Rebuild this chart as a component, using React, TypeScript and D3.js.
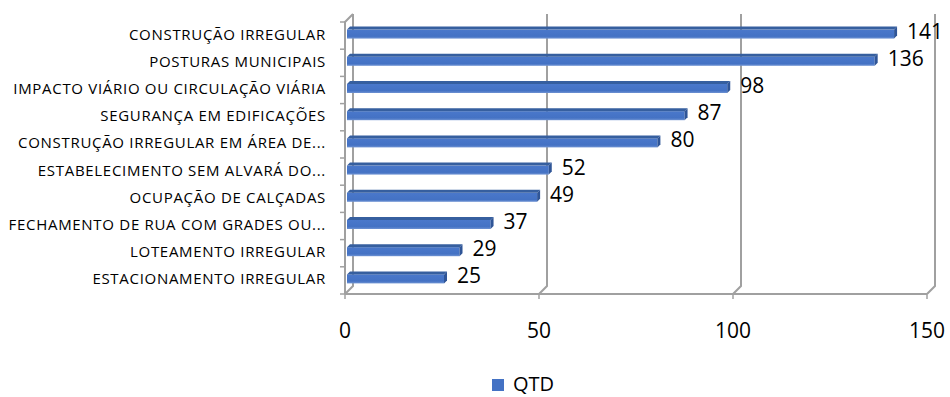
import React from "react";
import * as d3 from "d3";

const categories = [
  "CONSTRUÇÃO IRREGULAR",
  "POSTURAS MUNICIPAIS",
  "IMPACTO VIÁRIO OU CIRCULAÇÃO VIÁRIA",
  "SEGURANÇA EM EDIFICAÇÕES",
  "CONSTRUÇÃO IRREGULAR EM ÁREA DE...",
  "ESTABELECIMENTO SEM ALVARÁ DO...",
  "OCUPAÇÃO DE CALÇADAS",
  "FECHAMENTO DE RUA COM GRADES OU...",
  "LOTEAMENTO IRREGULAR",
  "ESTACIONAMENTO IRREGULAR",
];
const qtd = [141, 136, 98, 87, 80, 52, 49, 37, 29, 25];
const xTicks = [0, 50, 100, 150];
const seriesName = "QTD";

const W = 950;
const H = 397;
const DEPTH = 8; // 3-D wall depth (px, diagonal)
const FONT = "'Open Sans', 'DejaVu Sans', sans-serif";
const GRID = "#a0a0a0";

export default function App() {
  const x = d3.scaleLinear().domain([0, 150]).range([345, 927]);
  const y = d3.scaleBand<string>().domain(categories).range([22, 294]);
  const half = DEPTH / 2;
  const barH = 12;
  const topH = 3;
  const y0 = y.range()[1];
  const yTop = y.range()[0];

  return (
    <svg
      width={W}
      height={H}
      style={{ position: "absolute", left: 0, top: 0, background: "#fff" }}
      fontFamily={FONT}
    >
      <defs>
        <linearGradient id="barFront" x1="0" y1="0" x2="0" y2="1">
          <stop offset="0" stopColor="#4a78cb" />
          <stop offset="0.75" stopColor="#4472c4" />
          <stop offset="1" stopColor="#6f93d3" />
        </linearGradient>
      </defs>

      {/* back wall gridlines with floor diagonals */}
      {xTicks.map((t) => (
        <path
          key={"g" + t}
          d={`M${x(t) + DEPTH},${yTop - DEPTH} L${x(t) + DEPTH},${y0 - DEPTH} L${x(t)},${y0}`}
          fill="none"
          stroke={GRID}
          strokeWidth={2}
        />
      ))}
      {/* left side wall */}
      <path
        d={`M${x(0)},${y0} L${x(0)},${yTop} L${x(0) + DEPTH},${yTop - DEPTH}`}
        fill="none"
        stroke={GRID}
        strokeWidth={2}
      />
      {/* floor front edge */}
      <line x1={x(0)} x2={x(150)} y1={y0} y2={y0} stroke={GRID} strokeWidth={2} />
      {/* category ticks */}
      {categories.map((_, i) => (
        <line
          key={"ct" + i}
          x1={x(0) - 5}
          x2={x(0)}
          y1={yTop + i * y.step()}
          y2={yTop + i * y.step()}
          stroke={GRID}
          strokeWidth={1.5}
        />
      ))}
      <line x1={x(0) - 5} x2={x(0)} y1={y0} y2={y0} stroke={GRID} strokeWidth={1.5} />
      {/* value ticks */}
      {xTicks.map((t) => (
        <line key={"vt" + t} x1={x(t)} x2={x(t)} y1={y0} y2={y0 + 5} stroke={GRID} strokeWidth={1.5} />
      ))}

      {/* bars */}
      {categories.map((c, i) => {
        const cy = (y(c) as number) + y.bandwidth() / 2 - half + 1;
        const x0 = x(0) + half - 2;
        const x1 = x(qtd[i]) + half - 2;
        const top = cy - barH / 2;
        return (
          <g key={"b" + i}>
            <rect x={x0} y={top + topH} width={x1 - x0} height={barH - topH} fill="url(#barFront)" />
            <path
              d={`M${x0},${top + topH} L${x0 + topH},${top} L${x1 + topH},${top} L${x1},${top + topH} Z`}
              fill="#365f9f"
            />
            <path
              d={`M${x1},${top + topH} L${x1 + topH},${top} L${x1 + topH},${top + barH - topH} L${x1},${top + barH} Z`}
              fill="#2f5597"
            />
            <text
              x={x1 + 13}
              y={cy - 2}
              fontSize={21}
              dominantBaseline="central"
              fill="#000"
            >
              {qtd[i]}
            </text>
          </g>
        );
      })}

      {/* category labels */}
      {categories.map((c) => (
        <text
          key={"l" + c}
          x={326}
          y={(y(c) as number) + y.bandwidth() / 2 - 2}
          fontSize={15}
          letterSpacing={0.7}
          textAnchor="end"
          dominantBaseline="central"
          fill="#000"
        >
          {c}
        </text>
      ))}

      {/* value axis labels */}
      {xTicks.map((t) => (
        <text
          key={"xl" + t}
          x={x(t)}
          y={330}
          fontSize={21}
          textAnchor="middle"
          dominantBaseline="central"
          fill="#000"
        >
          {t}
        </text>
      ))}

      {/* legend */}
      <rect x={492} y={379} width={12} height={12} fill="#4472c4" />
      <text x={513} y={391} fontSize={20} fill="#000">
        {seriesName}
      </text>
    </svg>
  );
}
